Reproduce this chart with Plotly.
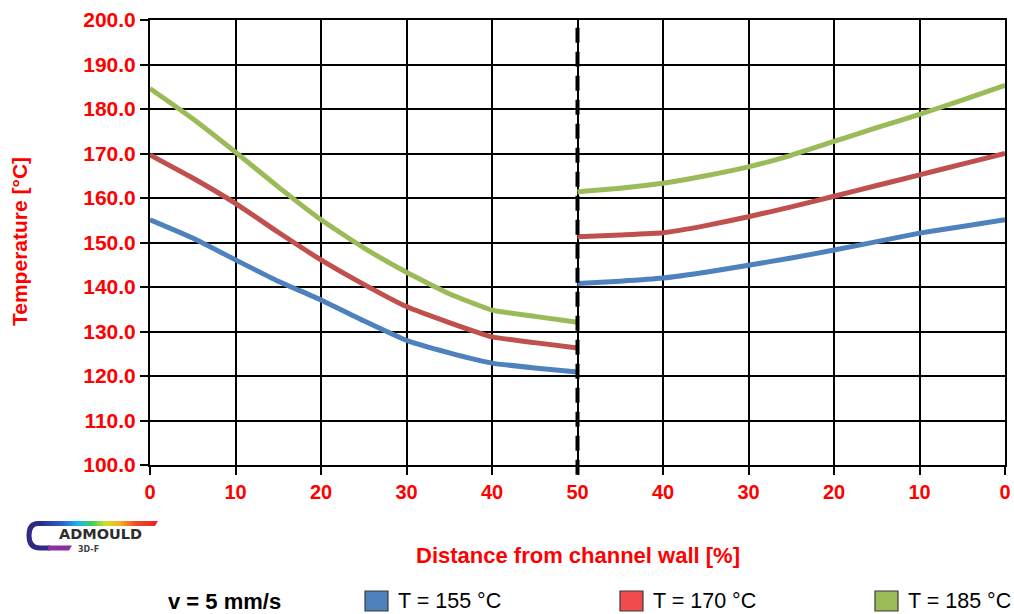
import plotly.graph_objects as go

# Temperature profiles across the channel: wall (0 %) -> centre (50 %) -> opposite wall (0 %)
dist_left = [0, 5, 10, 15, 20, 25, 30, 35, 40, 45, 50]
dist_right = [50, 45, 40, 35, 30, 25, 20, 15, 10, 5, 0]

series_names = ["T = 155 °C", "T = 170 °C", "T = 185 °C"]
line_colors = ["#4F81BD", "#C0504D", "#9BBB59"]
legend_colors = ["#4F81BD", "#F24B4B", "#9BBB59"]

left_values = [
    [155.1, 151.0, 146.1, 141.3, 137.1, 132.4, 128.0, 125.2, 122.9, 121.8, 120.9],
    [169.7, 164.5, 158.8, 152.3, 146.1, 140.6, 135.6, 132.0, 128.8, 127.5, 126.3],
    [184.6, 177.8, 170.3, 162.5, 155.1, 148.8, 143.3, 138.5, 134.8, 133.4, 132.1],
]
right_values = [
    [140.8, 141.3, 142.0, 143.3, 144.9, 146.5, 148.3, 150.2, 152.1, 153.6, 155.1],
    [151.3, 151.7, 152.2, 153.8, 155.8, 158.0, 160.4, 162.8, 165.2, 167.6, 170.0],
    [161.4, 162.2, 163.3, 165.0, 167.0, 169.6, 172.7, 175.8, 178.8, 182.0, 185.3],
]

x_tick_vals = [0, 10, 20, 30, 40, 50, 60, 70, 80, 90, 100]
x_tick_text = ["0", "10", "20", "30", "40", "50", "40", "30", "20", "10", "0"]

speed_label = "v = 5 mm/s"
x_title = "Distance from channel wall [%]"
y_title = "Temperature [°C]"

FONT = "Liberation Sans, Arial, sans-serif"
RED = "#FF0000"

# plot-area geometry in pixels (used only for decorations outside the axes)
L, R, T, B = 150, 1005, 20, 465
LEG_Y = 601  # vertical centre of the bottom legend row


def px(x):
    return (x - L) / (R - L)


def py(y):
    return (B - y) / (B - T)


fig = go.Figure()

for i, name in enumerate(series_names):
    xl = list(dist_left)
    xr = [100 - d for d in dist_right]
    fig.add_trace(go.Scatter(x=xl, y=left_values[i], mode="lines", name=name,
                             line=dict(color=line_colors[i], width=5, shape="spline", smoothing=0.4),
                             showlegend=False, hoverinfo="skip"))
    fig.add_trace(go.Scatter(x=xr, y=right_values[i], mode="lines", name=name,
                             line=dict(color=line_colors[i], width=5, shape="spline", smoothing=0.4),
                             showlegend=False, hoverinfo="skip"))

shapes = []
# dashed centre line
shapes.append(dict(type="line", xref="x", yref="paper", x0=50, x1=50, y0=-0.022, y1=1,
                   line=dict(color="black", width=4, dash="15px,9px"), layer="above"))

# manual legend squares
for i, c in enumerate(legend_colors):
    x0 = 365 + i * 255
    shapes.append(dict(type="rect", xref="paper", yref="paper",
                       x0=px(x0), x1=px(x0 + 23), y0=py(LEG_Y + 10), y1=py(LEG_Y - 10),
                       fillcolor=c, line=dict(color="#3a3a3a", width=1.2)))

# logo: rainbow bar
stops = [(40, (43, 45, 140)), (62, (47, 95, 208)), (78, (24, 184, 232)), (92, (60, 207, 90)),
         (106, (214, 224, 42)), (120, (245, 176, 33)), (136, (240, 74, 36)), (157, (232, 40, 43))]


def grad(x):
    for (xa, ca), (xb, cb) in zip(stops[:-1], stops[1:]):
        if xa <= x <= xb:
            t = (x - xa) / (xb - xa)
            return "rgb(%d,%d,%d)" % tuple(round(a + (b - a) * t) for a, b in zip(ca, cb))
    return "rgb(232,40,43)"


xs = 40
while xs < 152:
    xe = min(xs + 3, 152)
    shapes.append(dict(type="rect", xref="paper", yref="paper", x0=px(xs), x1=px(xe + 0.4),
                       y0=py(526), y1=py(521), fillcolor=grad(xs + 1.5), line=dict(width=0)))
    xs = xe
shapes.append(dict(type="path", xref="paper", yref="paper",
                   path="M %f,%f L %f,%f L %f,%f L %f,%f Z" % (px(152), py(521), px(158), py(521),
                                                             px(155), py(526), px(152), py(526)),
                   fillcolor="rgb(232,40,43)", line=dict(width=0)))
# logo: left curve of the "C"
shapes.append(dict(type="path", xref="paper", yref="paper",
                   path="M %f,%f L %f,%f Q %f,%f %f,%f Q %f,%f %f,%f L %f,%f" % (
                       px(42), py(523.5), px(38), py(523.5), px(29), py(523.5), px(29), py(535.5),
                       px(29), py(548), px(40), py(548), px(50), py(548)),
                   line=dict(color="#2e2a86", width=5)))
shapes.append(dict(type="path", xref="paper", yref="paper",
                   path="M %f,%f L %f,%f L %f,%f L %f,%f Z" % (px(48), py(545.5), px(72), py(545.5),
                                                             px(69), py(550.5), px(48), py(550.5)),
                   fillcolor="#8a2fa0", line=dict(width=0)))

annotations = [
    dict(text=x_title, x=0.5, y=py(555), xref="paper", yref="paper", showarrow=False,
         xanchor="center", yanchor="middle",
         font=dict(family=FONT, size=22, color=RED, weight="bold")),
    dict(text=y_title, x=px(20), y=py(242), xref="paper", yref="paper", showarrow=False,
         textangle=-90, xanchor="center", yanchor="middle",
         font=dict(family=FONT, size=21, color=RED, weight="bold")),
    dict(text=speed_label, x=px(166), y=py(LEG_Y), xref="paper", yref="paper", showarrow=False,
         xanchor="left", yanchor="middle",
         font=dict(family=FONT, size=22, color="black", weight="bold")),
    dict(text="ADMOULD", x=px(100), y=py(534), xref="paper", yref="paper", showarrow=False,
         xanchor="center", yanchor="middle",
         font=dict(family="DejaVu Sans, sans-serif", size=14.5, color="#2d2d2d", weight="bold")),
    dict(text="3D-F", x=px(88), y=py(549.5), xref="paper", yref="paper", showarrow=False,
         xanchor="center", yanchor="middle",
         font=dict(family="DejaVu Sans, sans-serif", size=8, color="#444444", weight="bold")),
]
for i, name in enumerate(series_names):
    annotations.append(dict(text=name, x=px(396 + i * 255), y=py(LEG_Y), xref="paper", yref="paper",
                            showarrow=False, xanchor="left", yanchor="middle",
                            font=dict(family=FONT, size=21.5, color="black")))

fig.update_layout(
    width=1014, height=614,
    margin=dict(l=L, r=1014 - R, t=T, b=614 - B, autoexpand=False),
    paper_bgcolor="white", plot_bgcolor="white",
    shapes=shapes, annotations=annotations,
    showlegend=False,
)
fig.update_xaxes(range=[0, 100], tickmode="array", tickvals=x_tick_vals, ticktext=x_tick_text,
                 showgrid=True, gridcolor="black", gridwidth=2, zeroline=False,
                 showline=True, linecolor="black", linewidth=2, mirror=True, automargin=False,
                 ticks="outside", ticklen=8, tickwidth=2, tickcolor="black",
                 tickfont=dict(family=FONT, size=20, color=RED, weight="bold"))
fig.update_yaxes(range=[100, 200], dtick=10, tick0=100, tickformat=".1f",
                 showgrid=True, gridcolor="black", gridwidth=2, zeroline=False,
                 showline=True, linecolor="black", linewidth=2, mirror=True, automargin=False,
                 ticks="outside", ticklen=8, tickwidth=2, tickcolor="black",
                 tickfont=dict(family=FONT, size=21, color=RED, weight="bold"))

fig.write_html("out.html")
